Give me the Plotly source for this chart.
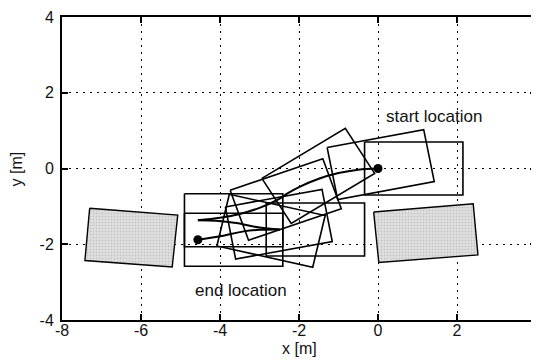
import numpy as np
import plotly.graph_objects as go

# ---- data ----
# car poses: rear-axle position [m] and heading [deg]
pose_x = [0.0, -0.82, -2.28, -3.19, -4.56, -3.59, -2.49, -3.40, -4.56]
pose_y = [0.0, -0.07, -0.675, -1.12, -1.365, -1.44, -1.61, -1.64, -1.88]
pose_th = [0.0, 11.0, 32.0, 19.5, 0.0, -13.0, 0.0, 10.7, 0.0]
car_length = 2.49
car_width = 1.40
rear_overhang = 0.34

# parked cars (corners)
park1_x = [-7.30, -5.07, -5.21, -7.42]
park1_y = [-1.05, -1.23, -2.60, -2.43]
park2_x = [-0.11, 2.41, 2.53, 0.02]
park2_y = [-1.15, -0.93, -2.28, -2.48]

# rear-axle path segments
path1_x = [0.0, -0.5, -1.0, -1.5, -2.0, -2.28, -2.5, -3.0, -3.5, -4.0, -4.56]
path1_y = [0.0, -0.03, -0.12, -0.27, -0.49, -0.65, -0.80, -1.04, -1.20, -1.30, -1.365]
path2_x = [-4.56, -4.1, -3.59, -3.0, -2.49]
path2_y = [-1.365, -1.38, -1.44, -1.56, -1.61]
path3_x = [-2.49, -3.0, -3.4, -4.0, -4.56]
path3_y = [-1.61, -1.62, -1.66, -1.79, -1.88]

start_pt = [0.0, 0.0]
end_pt = [-4.56, -1.88]

x_ticks = [-8, -6, -4, -2, 0, 2, 4]
y_ticks = [-4, -2, 0, 2, 4]

FONT = "Liberation Sans, Arial, Helvetica, sans-serif"
TXT = "#111"

fig = go.Figure()

# parked cars
for px, py in [(park1_x, park1_y), (park2_x, park2_y)]:
    fig.add_trace(go.Scatter(
        x=px + [px[0]], y=py + [py[0]], mode="lines", fill="toself",
        fillcolor="rgb(212,212,212)",
        fillpattern=dict(shape=".", bgcolor="rgb(225,225,225)", fgcolor="rgb(165,165,165)",
                         size=3, solidity=0.3, fillmode="overlay"),
        line=dict(color="black", width=1.4), hoverinfo="skip", showlegend=False))

# car outlines
rx, ry = [], []
for x, y, th in zip(pose_x, pose_y, pose_th):
    t = np.radians(th)
    c, s = np.cos(t), np.sin(t)
    rcx, rcy = x - rear_overhang * c, y - rear_overhang * s
    hw = car_width / 2
    nx, ny = -s * hw, c * hw
    pts = [(rcx + nx, rcy + ny),
           (rcx + nx + car_length * c, rcy + ny + car_length * s),
           (rcx - nx + car_length * c, rcy - ny + car_length * s),
           (rcx - nx, rcy - ny)]
    pts.append(pts[0])
    rx += [p[0] for p in pts] + [None]
    ry += [p[1] for p in pts] + [None]
fig.add_trace(go.Scatter(x=rx, y=ry, mode="lines", line=dict(color="black", width=1.6),
                         hoverinfo="skip", showlegend=False))

# paths
for px, py in [(path1_x, path1_y), (path2_x, path2_y), (path3_x, path3_y)]:
    fig.add_trace(go.Scatter(x=px, y=py, mode="lines", line=dict(color="black", width=2, shape="spline"),
                             hoverinfo="skip", showlegend=False))

# start / end markers
fig.add_trace(go.Scatter(x=[start_pt[0], end_pt[0]], y=[start_pt[1], end_pt[1]], mode="markers",
                         marker=dict(color="black", size=9), hoverinfo="skip", showlegend=False))

fig.add_annotation(x=1.42, y=1.37, text="start location", showarrow=False,
                   font=dict(family=FONT, size=17, color=TXT))
fig.add_annotation(x=-3.46, y=-3.23, text="end location", showarrow=False,
                   font=dict(family=FONT, size=17, color=TXT))

# axis titles as annotations (precise placement)
fig.add_annotation(x=0.5, y=-0.094, xref="paper", yref="paper", text="x [m]", showarrow=False,
                   xanchor="center", yanchor="middle", font=dict(family=FONT, size=16, color=TXT))
fig.add_annotation(x=-0.095, y=0.5, xref="paper", yref="paper", text="y [m]", showarrow=False,
                   textangle=-90, xanchor="center", yanchor="middle",
                   font=dict(family=FONT, size=16, color=TXT))

axis_common = dict(
    showgrid=True, gridcolor="black", gridwidth=1, griddash="2px,5px",
    zeroline=False, showline=True, linecolor="black", linewidth=2, mirror="ticks",
    ticks="inside", ticklen=6, tickwidth=2, tickcolor="black",
    tickfont=dict(family=FONT, size=16, color=TXT), automargin=False,
)

fig.update_layout(
    width=531, height=353,
    margin=dict(l=54, r=3, t=9, b=41, autoexpand=False),
    paper_bgcolor="white", plot_bgcolor="white",
    xaxis=dict(range=[-8, 4], tickvals=x_ticks, ticktext=[str(v) for v in x_ticks],
               ticklabelstandoff=-5, **axis_common),
    yaxis=dict(range=[-4, 4], tickvals=y_ticks, ticktext=[str(v) for v in y_ticks],
               ticklabelstandoff=3, **axis_common),
)

fig.write_html("out.html")
